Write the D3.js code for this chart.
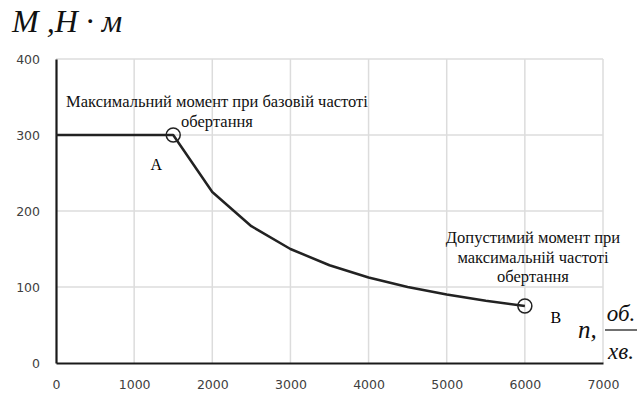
<!DOCTYPE html>
<html><head><meta charset="utf-8">
<script src="https://cdn.jsdelivr.net/npm/d3@7"></script>
<style>html,body{margin:0;padding:0;background:#fff;}svg{display:block;}</style>
</head><body>
<script>
// Torque vs. rotation speed
const speed = [0, 1500, 2000, 2500, 3000, 3500, 4000, 4500, 5000, 5500, 6000];
const torque = [300, 300, 225, 180, 150, 128.6, 112.5, 100, 90, 81.8, 75];
const xTicks = [0, 1000, 2000, 3000, 4000, 5000, 6000, 7000];
const yTicks = [0, 100, 200, 300, 400];
const markedPoints = [{n: 1500, m: 300, name: "А"}, {n: 6000, m: 75, name: "В"}];
const noteA = ["Максимальний момент при базовій частоті", "обертання"];
const noteB = ["Допустимий момент при", "максимальній частоті", "обертання"];

const W = 637, H = 394;
const svg = d3.select("body").append("svg").attr("width", W).attr("height", H);

const x = d3.scaleLinear().domain([0, 7000]).range([56, 603]);
const y = d3.scaleLinear().domain([0, 400]).range([363, 59]);

// grid
svg.append("g").selectAll("line.v").data(xTicks.slice(1)).join("line")
  .attr("x1", d => x(d)).attr("x2", d => x(d)).attr("y1", y(0)).attr("y2", y(400))
  .attr("stroke", "#dcdcdc").attr("stroke-width", 1.5);
svg.append("g").selectAll("line.h").data(yTicks.slice(1)).join("line")
  .attr("x1", x(0)).attr("x2", x(7000)).attr("y1", d => y(d)).attr("y2", d => y(d))
  .attr("stroke", "#dcdcdc").attr("stroke-width", 1.5);

// axes
const xAxis = svg.append("g").attr("transform", `translate(0,${y(0)})`)
  .call(d3.axisBottom(x).tickValues(xTicks).tickSize(0).tickPadding(17).tickFormat(d3.format("d")));
const yAxis = svg.append("g").attr("transform", `translate(${x(0)},0)`)
  .call(d3.axisLeft(y).tickValues(yTicks).tickSize(0).tickPadding(16).tickFormat(d3.format("d")));
[xAxis, yAxis].forEach(g => {
  g.select(".domain").attr("stroke", "#1a1a1a").attr("stroke-width", 2.2);
  g.selectAll("text").attr("font-family", "'DejaVu Sans', sans-serif").attr("font-size", 12.5)
    .attr("fill", "#404040");
});

// torque curve
const pts = speed.map((n, i) => [n, torque[i]]);
svg.append("path").datum(pts)
  .attr("d", d3.line().x(d => x(d[0])).y(d => y(d[1])))
  .attr("fill", "none").attr("stroke", "#222").attr("stroke-width", 2.5)
  .attr("stroke-linejoin", "round");

// marked points
svg.selectAll("circle.mk").data(markedPoints).join("circle")
  .attr("cx", d => x(d.n)).attr("cy", d => y(d.m)).attr("r", 7)
  .attr("fill", "none").attr("stroke", "#222").attr("stroke-width", 1.5);

const serif = "'Liberation Serif', 'Times New Roman', serif";
svg.append("text").attr("x", x(1500) - 17).attr("y", y(300) + 35)
  .attr("font-family", serif).attr("font-size", 16).attr("text-anchor", "middle").text(markedPoints[0].name);
svg.append("text").attr("x", x(6000) + 31).attr("y", y(75) + 17)
  .attr("font-family", serif).attr("font-size", 16).attr("text-anchor", "middle").text(markedPoints[1].name);

// annotations
const noteAText = svg.append("text").attr("font-family", serif).attr("font-size", 16.5)
  .attr("text-anchor", "middle").attr("fill", "#111");
noteA.forEach((s, i) => noteAText.append("tspan").attr("x", 217).attr("y", 107 + i * 20).text(s));
const noteBText = svg.append("text").attr("font-family", serif).attr("font-size", 16.5)
  .attr("text-anchor", "middle").attr("fill", "#111");
noteB.forEach((s, i) => noteBText.append("tspan").attr("x", 533).attr("y", 243 + i * 19.5).text(s));

// axis titles
svg.append("text").attr("x", 12).attr("y", 32).attr("font-family", serif).attr("font-style", "italic")
  .attr("font-size", 32).attr("fill", "#111").text("M ,H · м");
svg.append("text").attr("x", 578).attr("y", 338).attr("font-family", serif).attr("font-style", "italic")
  .attr("font-size", 25).attr("fill", "#111").text("n,");
svg.append("text").attr("x", 621).attr("y", 321).attr("font-family", serif).attr("font-style", "italic")
  .attr("font-size", 23).attr("text-anchor", "middle").attr("fill", "#111").text("об.");
svg.append("line").attr("x1", 605).attr("x2", 637).attr("y1", 330).attr("y2", 330)
  .attr("stroke", "#111").attr("stroke-width", 1.2);
svg.append("text").attr("x", 621).attr("y", 359).attr("font-family", serif).attr("font-style", "italic")
  .attr("font-size", 23).attr("text-anchor", "middle").attr("fill", "#111").text("хв.");
</script>
</body></html>
